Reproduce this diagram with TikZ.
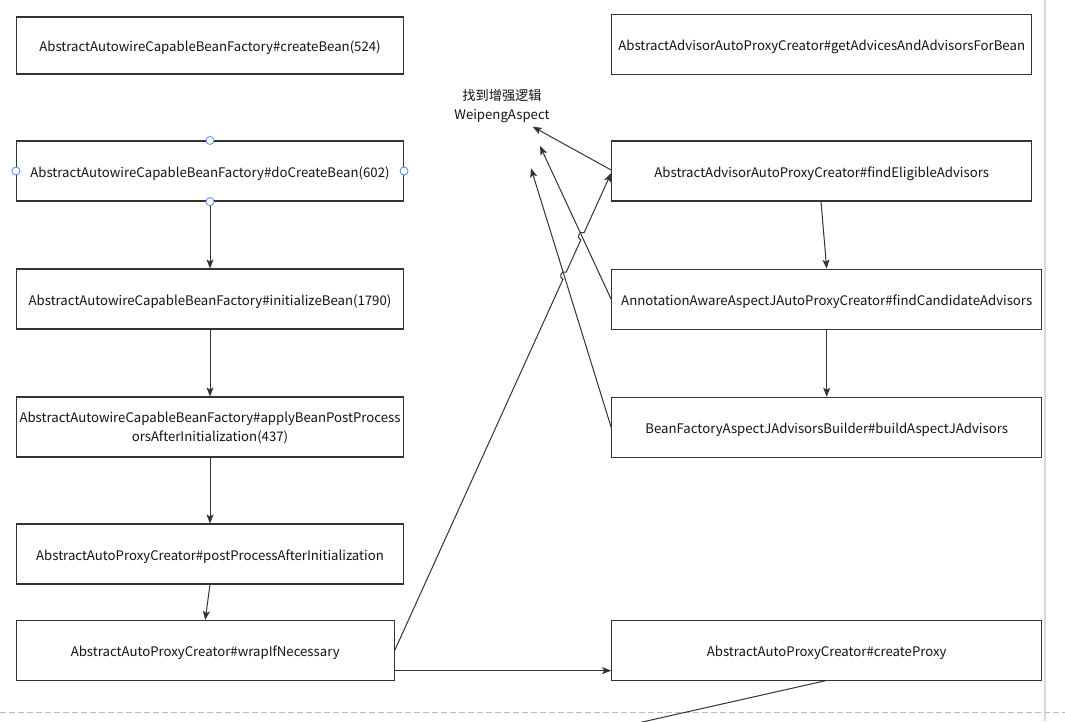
\documentclass[tikz,border=0pt]{standalone}
\usepackage{fontspec}
\setmainfont{Noto Sans CJK SC}
\usetikzlibrary{arrows.meta,calc}
\definecolor{edge}{HTML}{333333}
\definecolor{txt}{HTML}{141414}
\definecolor{handle}{HTML}{4A90E2}
\definecolor{guide}{HTML}{BBBBBB}
\definecolor{vguide}{HTML}{D9D9D9}
\tikzset{
  box/.style={draw=edge, line width=1.1pt, fill=white, inner sep=0pt, align=center,
    text=txt, font=\fontsize{13.2}{19}\selectfont, text height=15pt, text depth=2.6pt},
  conn/.style={draw=edge, line width=1pt, -{Stealth[length=9pt,width=7pt,inset=2pt]}},
  plain/.style={draw=edge, line width=1pt},
  hnd/.style={draw=handle, fill=white, line width=0.8pt},
  lbl/.style={text=txt, font=\fontsize{13.2}{19}\selectfont, align=center, inner sep=0pt}
}
\begin{document}
\begin{tikzpicture}[x=1pt,y=-1pt]
\clip (0,0) rectangle (1065,721);
\fill[white] (0,0) rectangle (1065,721);
% guides
\draw[vguide, line width=1.5pt] (1045,0) -- (1045,721);
\draw[guide, line width=1pt, dash pattern=on 6pt off 3pt] (0,712.3) -- (1065,712.3);
% left column
\node[box, minimum width=387pt, minimum height=57pt] (cb) at (210,45.5) {AbstractAutowireCapableBeanFactory\#createBean(524)};
\node[box, minimum width=387pt, minimum height=60pt] (dcb) at (210,171) {AbstractAutowireCapableBeanFactory\#doCreateBean(602)};
\node[box, minimum width=387pt, minimum height=60pt] (ib) at (210,299) {AbstractAutowireCapableBeanFactory\#initializeBean(1790)};
\node[box, minimum width=387pt, minimum height=60pt, text height=15.7pt, text depth=24.7pt] (ab) at (210,427)
  {\begin{tabular}[t]{@{}c@{}}AbstractAutowireCapableBeanFactory\#applyBeanPostProcess\\orsAfterInitialization(437)\end{tabular}};
\node[box, minimum width=387pt, minimum height=60pt] (pp) at (210,554) {AbstractAutoProxyCreator\#postProcessAfterInitialization};
\node[box, minimum width=378pt, minimum height=59.5pt] (wr) at (205.2,650.3) {AbstractAutoProxyCreator\#wrapIfNecessary};
% right column
\node[box, minimum width=420pt, minimum height=59.7pt] (ga) at (821.7,44.2) {AbstractAdvisorAutoProxyCreator\#getAdvicesAndAdvisorsForBean};
\node[box, minimum width=420pt, minimum height=60pt] (fe) at (821.7,171) {AbstractAdvisorAutoProxyCreator\#findEligibleAdvisors};
\node[box, minimum width=430pt, minimum height=60pt] (fc) at (826.7,299.2) {AnnotationAwareAspectJAutoProxyCreator\#findCandidateAdvisors};
\node[box, minimum width=430pt, minimum height=60pt] (ba) at (826.7,427.3) {BeanFactoryAspectJAdvisorsBuilder\#buildAspectJAdvisors};
\node[box, minimum width=430pt, minimum height=59.5pt] (cp) at (826.7,650.3) {AbstractAutoProxyCreator\#createProxy};
% label
\node[lbl] (lab) at (502,106) {找到增强逻辑\\WeipengAspect};
\coordinate (t1) at (532.7,126.7);
\coordinate (t2) at (540,146);
\coordinate (t3) at (531,168.3);
\coordinate (bt) at (640,722.5);
% vertical flow
\draw[conn] (dcb.south) -- (ib.north);
\draw[conn] (ib.south) -- (ab.north);
\draw[conn] (ab.south) -- (pp.north);
\draw[conn] (pp.south) -- (wr.north);
\draw[conn] ($(fe.south)+(-0.7,0)$) -- (fc.north);
\draw[conn] (fc.south) -- (ba.north);
% to label
\draw[conn] ($(fe.west)+(0,-1)$) -- (t1);
\draw[conn] (fc.west) -- (t2);
\draw[conn] (ba.west) -- (t3);
% wrap -> findEligible with hops
\coordinate (ws) at (wr.east);
\coordinate (we) at ($(fe.west)+(0,2)$);
\coordinate (h1a) at ($(ws)!0.7772!(we)$);
\coordinate (h1b) at ($(ws)!0.7924!(we)$);
\coordinate (h2a) at ($(ws)!0.8597!(we)$);
\coordinate (h2b) at ($(ws)!0.8749!(we)$);
\draw[conn] (ws) -- (h1a) .. controls ($(h1a)!5.3pt!90:(we)$) and ($(h1b)!5.3pt!90:(we)$) .. (h1b)
  -- (h2a) .. controls ($(h2a)!5.3pt!90:(we)$) and ($(h2b)!5.3pt!90:(we)$) .. (h2b) -- (we);
% wrap -> createProxy
\draw[conn] ($(wr.south east)+(0,-10)$) -- ($(cp.south west)+(0,-10)$);
% createProxy -> off
\draw[plain] ($(cp.south)+(-0.7,0)$) -- (bt);
% handles
\foreach \a in {north,west,east,south}{
  \draw[hnd] (dcb.\a) circle[radius=4pt];
}
\end{tikzpicture}
\end{document}
